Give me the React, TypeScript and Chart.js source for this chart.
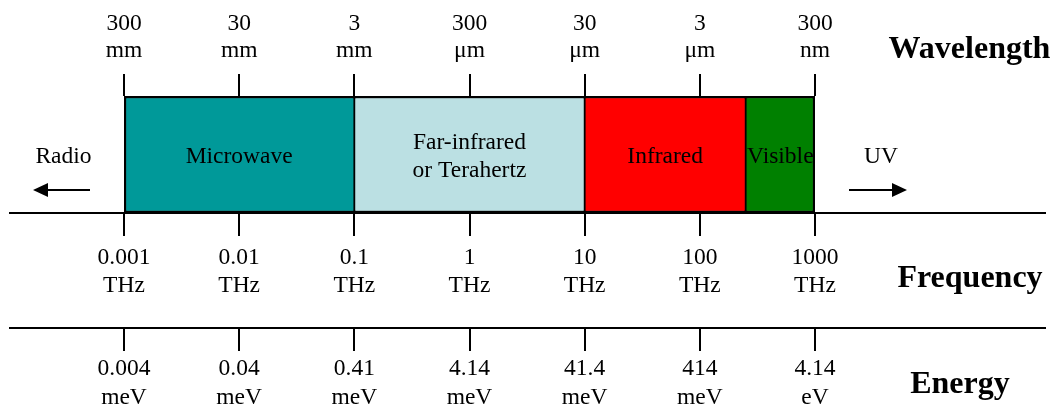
import React, { useEffect, useRef } from "react";
import { Chart, registerables } from "chart.js";

Chart.register(...registerables);

// ---- data ----
const FREQ_TICKS = [0.001, 0.01, 0.1, 1, 10, 100, 1000]; // THz
const WAVELENGTH_LABELS = [
  ["300", "mm"],
  ["30", "mm"],
  ["3", "mm"],
  ["300", "μm"],
  ["30", "μm"],
  ["3", "μm"],
  ["300", "nm"],
];
const FREQ_LABELS = [
  ["0.001", "THz"],
  ["0.01", "THz"],
  ["0.1", "THz"],
  ["1", "THz"],
  ["10", "THz"],
  ["100", "THz"],
  ["1000", "THz"],
];
const ENERGY_LABELS = [
  ["0.004", "meV"],
  ["0.04", "meV"],
  ["0.41", "meV"],
  ["4.14", "meV"],
  ["41.4", "meV"],
  ["414", "meV"],
  ["4.14", "eV"],
];
const BAND_NAMES = ["Microwave", "Far-infrared\nor Terahertz", "Infrared", "Visible"];
const BAND_START = [0.001, 0.1, 10, 250];
const BAND_END = [0.1, 10, 250, 1000];
const BAND_COLORS = ["#009999", "#BBE0E3", "#FF0000", "#008000"];
const SIDE_LEFT = "Radio";
const SIDE_RIGHT = "UV";
const AXIS_TITLES = ["Wavelength", "Frequency", "Energy"];

const SERIF = "'Liberation Serif', 'Times New Roman', serif";
const FS = 23.5;

export default function App() {
  const ref = useRef<HTMLCanvasElement | null>(null);

  useEffect(() => {
    if (!ref.current) return;

    const decor = {
      id: "decor",
      afterDatasetsDraw(chart: any) {
        const ctx = chart.ctx;
        ctx.save();
        ctx.fillStyle = "#000";
        ctx.font = `${FS}px ${SERIF}`;
        ctx.textAlign = "center";
        ctx.textBaseline = "middle";
        chart.data.datasets.forEach((ds: any, i: number) => {
          const el = chart.getDatasetMeta(i).data[0];
          if (!el) return;
          const cx = (el.x + el.base) / 2;
          const cy = el.y + 2;
          const lines = String(ds.label).split("\n");
          const lh = 28;
          lines.forEach((t, j) => {
            ctx.fillText(t, cx, cy - ((lines.length - 1) * lh) / 2 + j * lh);
          });
        });
        ctx.restore();
      },
      afterDraw(chart: any) {
        const { ctx, chartArea, scales } = chart;
        const xF = scales.x;
        const xE = scales.xe;
        ctx.save();
        ctx.strokeStyle = "#000";
        ctx.fillStyle = "#000";
        ctx.lineWidth = 2;
        // long horizontal axis lines
        [xF.top, xE.top].forEach((y: number) => {
          ctx.beginPath();
          ctx.moveTo(9, y);
          ctx.lineTo(1046, y);
          ctx.stroke();
        });
        const midY = chartArea.top + 60.5;
        const arrowY = chartArea.top + 94;
        ctx.font = `${FS}px ${SERIF}`;
        ctx.textAlign = "center";
        ctx.textBaseline = "middle";
        ctx.fillText(SIDE_LEFT, chartArea.left - 60.5, midY);
        ctx.fillText(SIDE_RIGHT, chartArea.right + 66, midY);
        // left arrow
        const drawArrow = (x0: number, x1: number, headLen: number) => {
          const dir = Math.sign(x1 - x0);
          ctx.beginPath();
          ctx.moveTo(x0, arrowY);
          ctx.lineTo(x1 - dir * headLen + dir * 1, arrowY);
          ctx.stroke();
          ctx.beginPath();
          ctx.moveTo(x1, arrowY);
          ctx.lineTo(x1 - dir * headLen, arrowY - 7);
          ctx.lineTo(x1 - dir * headLen, arrowY + 7);
          ctx.closePath();
          ctx.fill();
        };
        drawArrow(chartArea.left - 34, chartArea.left - 91, 15);
        drawArrow(chartArea.right + 34, chartArea.right + 92, 15);
        // axis titles
        ctx.font = `bold 32px ${SERIF}`;
        ctx.textBaseline = "alphabetic";
        ctx.fillText(AXIS_TITLES[0], 969.5, 58.3);
        ctx.fillText(AXIS_TITLES[1], 970, 286.7);
        ctx.fillText(AXIS_TITLES[2], 960, 393);
        ctx.restore();
      },
    };

    const setTicks = (s: any) => {
      s.ticks = FREQ_TICKS.map((v) => ({ value: v }));
    };

    const axisBase = (labels: string[][], lh: number, pad: number, tl: number) => ({
      type: "logarithmic" as const,
      min: FREQ_TICKS[0],
      max: FREQ_TICKS[FREQ_TICKS.length - 1],
      afterBuildTicks: setTicks,
      border: { display: false },
      grid: {
        drawOnChartArea: false,
        drawTicks: true,
        tickLength: tl,
        color: "#000",
        lineWidth: 2,
      },
      ticks: {
        autoSkip: false,
        maxRotation: 0,
        minRotation: 0,
        padding: pad,
        color: "#000",
        font: { family: SERIF, size: FS, lineHeight: lh / FS },
        callback: (_v: any, i: number) => labels[i],
      },
    });

    const n = BAND_NAMES.length;
    const chart = new Chart(ref.current, {
      type: "bar",
      data: {
        labels: ["spectrum"],
        datasets: BAND_NAMES.map((name, i) => ({
          label: name,
          data: [[BAND_START[i], BAND_END[i]]],
          backgroundColor: BAND_COLORS[i],
          borderColor: "#000",
          borderWidth: {
            top: 2.5,
            bottom: 2.5,
            left: i === 0 ? 2.5 : 1.25,
            right: i === n - 1 ? 2.5 : 1.25,
          },
          borderSkipped: false,
          grouped: false,
          barPercentage: 1,
          categoryPercentage: 1,
        })) as any,
      },
      options: {
        indexAxis: "y",
        animation: false,
        responsive: false,
        devicePixelRatio: 1,
        layout: { padding: { left: 124, right: 241, top: 0, bottom: 0 } },
        plugins: {
          legend: { display: false },
          tooltip: { enabled: false },
        },
        scales: {
          y: { type: "category", display: false },
          xw: {
            ...axisBase(WAVELENGTH_LABELS, 26.7, 10.2, 22),
            position: "top",
            afterFit: (s: any) => {
              s.height = 96;
            },
          },
          x: {
            ...axisBase(FREQ_LABELS, 28.3, 7.35, 23),
            position: "bottom",
            weight: 0,
            afterFit: (s: any) => {
              s.height = 115;
            },
          },
          xe: {
            ...axisBase(ENERGY_LABELS, 28.2, 4.1, 23),
            position: "bottom",
            weight: 1,
            afterFit: (s: any) => {
              s.height = 82;
            },
          },
        } as any,
      },
      plugins: [decor],
    });

    return () => chart.destroy();
  }, []);

  return (
    <div style={{ position: "absolute", left: 0, top: 0, width: 1056, height: 410, background: "#fff" }}>
      <canvas ref={ref} width={1056} height={410} style={{ display: "block", width: 1056, height: 410 }} />
    </div>
  );
}
